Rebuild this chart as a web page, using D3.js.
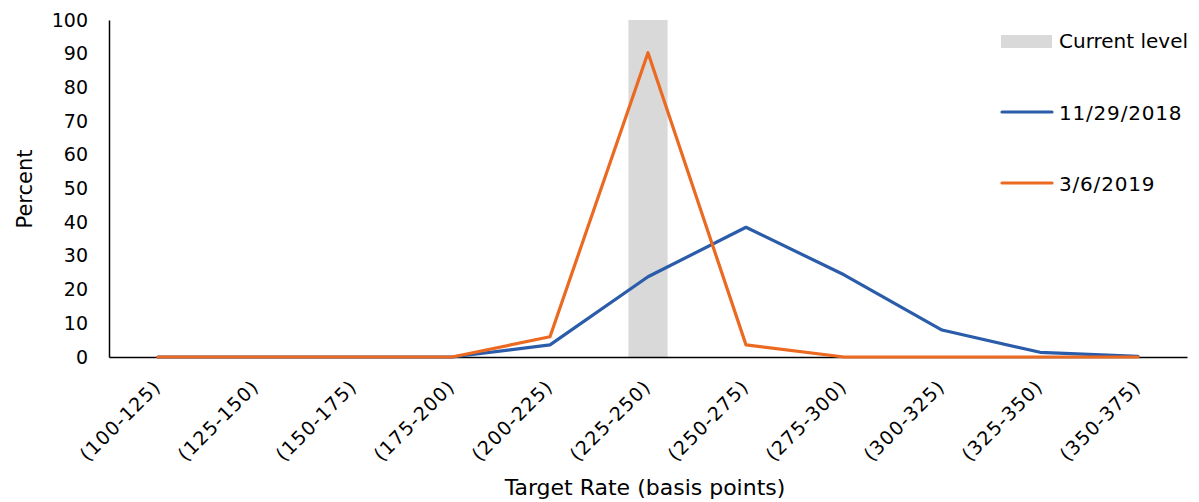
<!DOCTYPE html>
<html><head><meta charset="utf-8">
<script src="https://cdn.jsdelivr.net/npm/d3@7"></script>
<style>body{margin:0;background:#fff;} text{font-family:"DejaVu Sans",sans-serif;}</style>
</head><body>
<svg id="c" width="1199" height="502"></svg>
<script>
const categories = ["(100-125)","(125-150)","(150-175)","(175-200)","(200-225)","(225-250)","(250-275)","(275-300)","(300-325)","(325-350)","(350-375)"];
const series1 = [0,0,0,0,3.6,23.8,38.5,24.4,8,1.4,0.2];   // 11/29/2018
const series2 = [0,0,0,0,6,90.3,3.6,0,0,0,0];             // 3/6/2019
const currentLevel = "(225-250)";
const yTicks = [0,10,20,30,40,50,60,70,80,90,100];
const seriesNames = ["11/29/2018","3/6/2019"];
const colors = ["#2a5caa","#eb6920"];

const svg = d3.select("#c");
const m = {left:109, right:1187, top:20, bottom:357};
const x = d3.scaleBand().domain(categories).range([m.left, m.right]);
const y = d3.scaleLinear().domain([0,100]).range([m.bottom, m.top]);

// current level bar
svg.append("rect")
  .attr("x", x(currentLevel) + x.bandwidth()*0.3)
  .attr("width", x.bandwidth()*0.4)
  .attr("y", y(100)).attr("height", y(0)-y(100))
  .attr("fill", "#d9d9d9");

// y axis
const ya = svg.append("g").attr("transform", `translate(${m.left},0)`)
  .call(d3.axisLeft(y).tickValues(yTicks).tickSize(0).tickPadding(21));
ya.select(".domain").attr("stroke","#000").attr("stroke-width",1.5);
ya.selectAll("text").attr("font-size",19).attr("fill","#000");

// x axis
const xa = svg.append("g").attr("transform", `translate(0,${m.bottom})`)
  .call(d3.axisBottom(x).tickSize(0).tickPadding(0));
xa.select(".domain").attr("stroke","#000").attr("stroke-width",1.5);
xa.selectAll("text").attr("font-size",19).attr("fill","#000")
  .attr("letter-spacing",1.2)
  .attr("text-anchor","end")
  .attr("dy",0).attr("y",0)
  .attr("transform","translate(4,31) rotate(-45)");

// lines
const line = d3.line().x((d,i)=>x(categories[i])+x.bandwidth()/2).y(d=>y(d));
[series1, series2].forEach((s,i)=>{
  svg.append("path").datum(s).attr("d", line)
    .attr("fill","none").attr("stroke",colors[i]).attr("stroke-width",3.2)
    .attr("stroke-linejoin","round").attr("stroke-linecap","round");
});

// axis titles
svg.append("text").attr("x",645).attr("y",495).attr("text-anchor","middle")
  .attr("font-size",22).text("Target Rate (basis points)");
svg.append("text").attr("transform","translate(32,189) rotate(-90)").attr("text-anchor","middle")
  .attr("font-size",21).text("Percent");

// legend
const lg = svg.append("g");
lg.append("rect").attr("x",1001).attr("y",35).attr("width",51).attr("height",13).attr("fill","#d9d9d9");
lg.append("text").attr("x",1059).attr("y",48).attr("font-size",20).text("Current level");
seriesNames.forEach((n,i)=>{
  const yy = 112 + i*71;
  lg.append("line").attr("x1",1002).attr("x2",1052).attr("y1",yy).attr("y2",yy)
    .attr("stroke",colors[i]).attr("stroke-width",3.2).attr("stroke-linecap","round");
  lg.append("text").attr("x",1059).attr("y",yy+8).attr("font-size",20).attr("letter-spacing",0.8).text(n);
});
</script>
</body></html>
